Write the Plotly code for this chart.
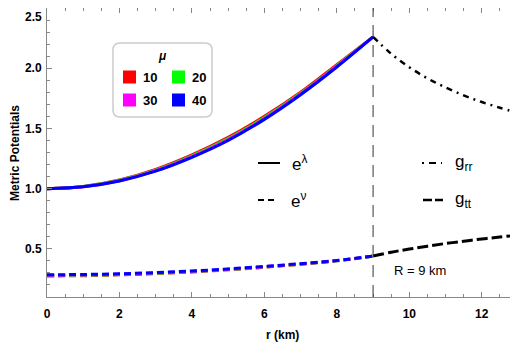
import plotly.graph_objects as go

# interior solution, r = 0..9 km
r_in = [0, 1, 2, 3, 4, 5, 6, 7, 8, 9]
elam_mu10 = [1.000, 1.018, 1.072, 1.160, 1.280, 1.425, 1.600, 1.800, 2.030, 2.260]
elam_mu20 = [1.000, 1.017, 1.069, 1.154, 1.272, 1.415, 1.590, 1.792, 2.022, 2.260]
elam_mu30 = [1.000, 1.0165, 1.066, 1.149, 1.265, 1.407, 1.582, 1.786, 2.016, 2.260]
elam_mu40 = [1.000, 1.016, 1.064, 1.145, 1.260, 1.400, 1.575, 1.780, 2.010, 2.260]
enu_mu10 = [0.275, 0.277, 0.284, 0.294, 0.308, 0.326, 0.347, 0.372, 0.400, 0.440]
enu_mu20 = [0.278, 0.280, 0.287, 0.297, 0.311, 0.328, 0.349, 0.374, 0.401, 0.440]
enu_mu30 = [0.281, 0.283, 0.290, 0.300, 0.313, 0.330, 0.351, 0.375, 0.402, 0.440]
enu_mu40 = [0.285, 0.287, 0.293, 0.303, 0.316, 0.333, 0.354, 0.377, 0.403, 0.440]

# exterior (Schwarzschild), r = 9..13 km
r_out = [9, 9.5, 10, 10.5, 11, 11.5, 12, 12.5, 13]
g_rr = [2.260, 2.120, 2.008, 1.916, 1.840, 1.775, 1.719, 1.672, 1.628]
g_tt = [0.440, 0.472, 0.498, 0.522, 0.544, 0.563, 0.582, 0.598, 0.614]

mu_labels = ["10", "20", "30", "40"]
mu_colors = ["#ff0000", "#00ff00", "#ff00ff", "#0000ff"]
y_ticks = [0.5, 1.0, 1.5, 2.0]

# page body has an 8px margin, so the figure is shrunk by that much
OFF = 8
W, H = 518 - OFF, 342 - OFF
L, R, T, B = 39, 0, 0, 45
PW, PH = W - L - R, H - T - B


def px(x):
    # reference screen x -> paper
    return (x - OFF - L) / PW


def py(y):
    # reference screen y -> paper
    return (H - B - (y - OFF)) / PH


fig = go.Figure()

elam = [elam_mu10, elam_mu20, elam_mu30, elam_mu40]
enu = [enu_mu10, enu_mu20, enu_mu30, enu_mu40]
for ys, c in zip(elam, mu_colors):
    fig.add_trace(go.Scatter(x=r_in, y=ys, mode="lines", line_shape="spline",
                             line=dict(color=c, width=3)))
for ys, c in zip(enu, mu_colors):
    fig.add_trace(go.Scatter(x=r_in, y=ys, mode="lines", line_shape="spline",
                             line=dict(color=c, width=3, dash="7px,4px")))

fig.add_trace(go.Scatter(x=r_out, y=g_rr, mode="lines", line_shape="spline",
                         line=dict(color="black", width=2.5, dash="6px,5px,2px,5px")))
fig.add_trace(go.Scatter(x=r_out, y=g_tt, mode="lines", line_shape="spline",
                         line=dict(color="black", width=3, dash="11px,4px")))

# empty trace so the mirrored tick axes (top / right) get drawn
fig.add_trace(go.Scatter(x=[], y=[], xaxis="x2", yaxis="y2", showlegend=False))

shapes = []
annotations = []

# surface line R = 9 km
shapes.append(dict(type="line", xref="x", yref="paper", x0=9, x1=9, y0=0, y1=1,
                   line=dict(color="#333333", width=1, dash="12px,8px")))
annotations.append(dict(text="R = 9 km", xref="paper", yref="paper", x=px(392), y=py(270),
                        xanchor="left", yanchor="middle", showarrow=False,
                        font=dict(size=13, color="black")))

# axis titles, top tick label (kept inside the page)
annotations.append(dict(text="<b>r (km)</b>", xref="paper", yref="paper", x=px(282), y=py(335),
                        xanchor="center", yanchor="middle", showarrow=False,
                        font=dict(size=12, color="black")))
annotations.append(dict(text="<b>Metric Potentials</b>", xref="paper", yref="paper", x=px(15), y=py(153),
                        xanchor="center", yanchor="middle", showarrow=False, textangle=-90,
                        font=dict(size=12, color="black")))
annotations.append(dict(text="<b>2.5</b>", xref="paper", yref="paper", x=px(44), y=py(8),
                        xanchor="right", yanchor="top", showarrow=False,
                        font=dict(size=12, color="black")))

# line-style key
key = [
    (258, 280, 163, "solid", 2, "e<sup>λ</sup>", 290),
    (258, 277, 200, "6px,4px", 2, "e<sup>ν</sup>", 289),
    (422, 442, 163, "2px,5px,7px,5px", 2, "g<sub>rr</sub>", 453),
    (423, 443, 200, "9px,3px", 2.5, "g<sub>tt</sub>", 453),
]
for x0, x1, yy, dash, w, label, tx in key:
    shapes.append(dict(type="line", xref="paper", yref="paper", x0=px(x0), x1=px(x1),
                       y0=py(yy), y1=py(yy), line=dict(color="black", width=w, dash=dash)))
    annotations.append(dict(text=label, xref="paper", yref="paper", x=px(tx), y=py(yy),
                            xanchor="left", yanchor="middle", showarrow=False,
                            font=dict(size=17, color="black")))

# mu legend box
bx0, bx1, by0, by1, rad = 113, 212, 43, 117, 7
path = (f"M {px(bx0 + rad)},{py(by0)} L {px(bx1 - rad)},{py(by0)} "
        f"Q {px(bx1)},{py(by0)} {px(bx1)},{py(by0 + rad)} L {px(bx1)},{py(by1 - rad)} "
        f"Q {px(bx1)},{py(by1)} {px(bx1 - rad)},{py(by1)} L {px(bx0 + rad)},{py(by1)} "
        f"Q {px(bx0)},{py(by1)} {px(bx0)},{py(by1 - rad)} L {px(bx0)},{py(by0 + rad)} "
        f"Q {px(bx0)},{py(by0)} {px(bx0 + rad)},{py(by0)} Z")
shapes.append(dict(type="path", xref="paper", yref="paper", path=path,
                   fillcolor="white", line=dict(color="#cccccc", width=1.5)))
annotations.append(dict(text="<b><i>μ</i></b>", xref="paper", yref="paper", x=px(162), y=py(56),
                        xanchor="center", yanchor="middle", showarrow=False,
                        font=dict(size=12, color="black")))
slots = [(123, 77), (172, 77), (123, 100), (172, 100)]
for (sx, sy), lab, c in zip(slots, mu_labels, mu_colors):
    shapes.append(dict(type="rect", xref="paper", yref="paper", x0=px(sx), x1=px(sx + 13),
                       y0=py(sy - 6.5), y1=py(sy + 6.5), fillcolor=c, line=dict(width=0)))
    annotations.append(dict(text=f"<b>{lab}</b>", xref="paper", yref="paper", x=px(sx + 18), y=py(sy),
                            xanchor="left", yanchor="middle", showarrow=False,
                            font=dict(size=13, color="black")))

axis_gray = "#888888"
tickfont = dict(size=12, color="black", weight="bold")
major_y = dict(tickmode="array", tickvals=y_ticks + [2.5], ticktext=[f"{v:.1f}" for v in y_ticks] + [""])

fig.update_layout(
    width=W, height=H, margin=dict(l=L, r=R, t=T, b=B, autoexpand=False),
    plot_bgcolor="white", paper_bgcolor="white", showlegend=False,
    font=dict(family="Liberation Sans, Arial, sans-serif", color="black"),
    shapes=shapes, annotations=annotations,
    xaxis=dict(range=[0, 13], tick0=0, dtick=2, ticks="inside", ticklen=5, tickcolor=axis_gray,
               showline=True, linecolor=axis_gray, linewidth=1, showgrid=False, zeroline=False,
               minor=dict(dtick=0.5, ticks="inside", ticklen=3, tickcolor=axis_gray, showgrid=False),
               tickfont=tickfont, automargin=False, ticklabelstandoff=6),
    yaxis=dict(range=[0.1, 2.5], **major_y, ticks="inside", ticklen=5,
               tickcolor=axis_gray, showline=True, linecolor=axis_gray, linewidth=1,
               showgrid=False, zeroline=False,
               minor=dict(tick0=0, dtick=0.1, ticks="inside", ticklen=3, tickcolor=axis_gray, showgrid=False),
               tickfont=tickfont, automargin=False, ticklabelstandoff=2),
    xaxis2=dict(range=[0, 13], overlaying="x", side="top", anchor="y2", tick0=0, dtick=2,
                ticks="inside", ticklen=5, tickcolor=axis_gray, showline=False, showgrid=False,
                zeroline=False, showticklabels=False, automargin=False,
                minor=dict(dtick=0.5, ticks="inside", ticklen=3, tickcolor=axis_gray, showgrid=False)),
    yaxis2=dict(range=[0.1, 2.5], overlaying="y", side="right", anchor="x2", tick0=0, dtick=0.5,
                ticks="inside", ticklen=5, tickcolor=axis_gray, showline=False, showgrid=False,
                zeroline=False, showticklabels=False, automargin=False,
                minor=dict(dtick=0.1, ticks="inside", ticklen=3, tickcolor=axis_gray, showgrid=False)),
)

fig.write_html("out.html")
